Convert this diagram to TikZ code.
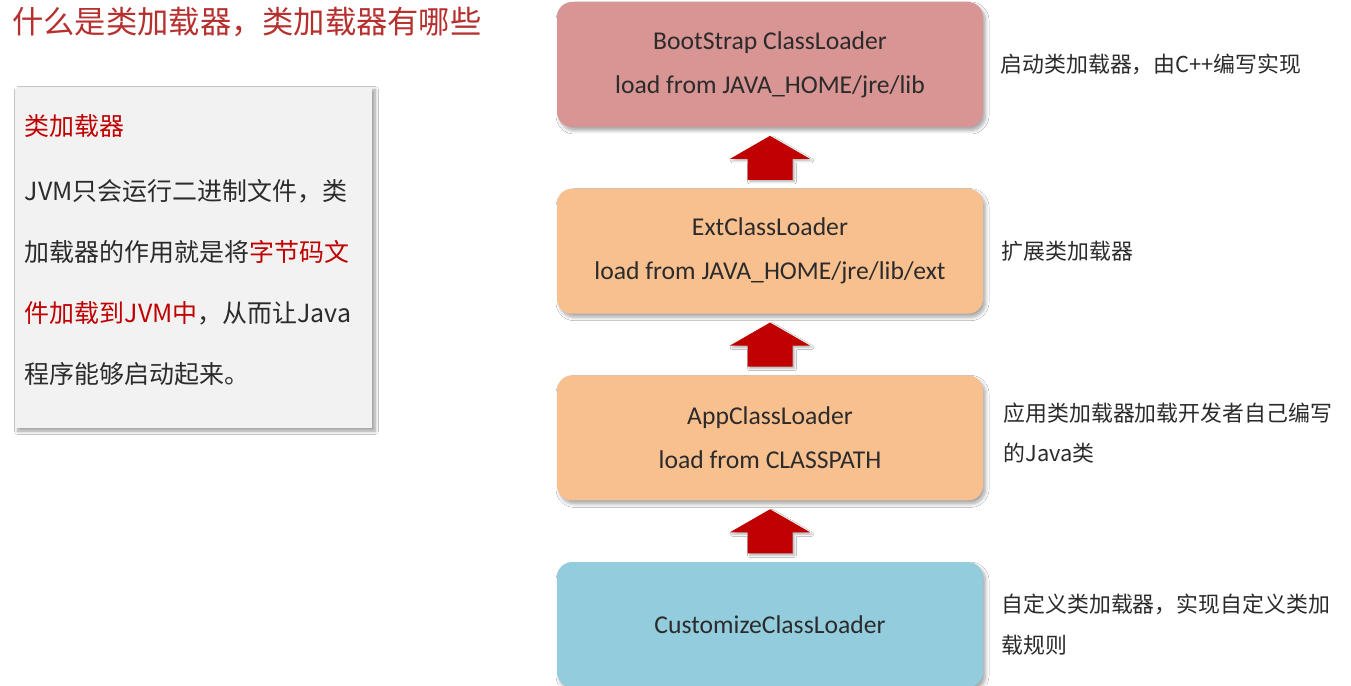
\documentclass[tikz,border=0pt]{standalone}
\usepackage{fontspec}
\setmainfont{Carlito}
\newfontfamily\cjk{Noto Sans CJK SC}
\usepackage{xcolor}
\usetikzlibrary{positioning,shadows.blur}

\definecolor{bootfill}{HTML}{D99594}
\definecolor{extfill}{HTML}{F9C08F}
\definecolor{custfill}{HTML}{93CDDD}
\definecolor{panelfill}{HTML}{F2F2F2}
\definecolor{arrowred}{HTML}{C00000}
\definecolor{titlered}{HTML}{B5302E}
\definecolor{keyred}{HTML}{C00000}
\definecolor{textgray}{HTML}{2B2B2B}

\begin{document}
\begin{tikzpicture}[
		loader/.style={rounded corners=0.3cm, minimum width=8.52cm, minimum height=2.5cm, align=center, text=textgray, font=\rmfamily\fontsize{14.6}{25}\selectfont, blur shadow={shadow xshift=0.05cm, shadow yshift=-0.07cm, shadow blur radius=0.07cm, shadow blur steps=6, shadow opacity=35}},
		liftarrow/.style={fill=arrowred, blur shadow={shadow xshift=0.04cm, shadow yshift=-0.04cm, shadow blur radius=0.04cm, shadow blur steps=4, shadow opacity=30}},
		note/.style={inner sep=0pt, align=left, text=textgray, font=\cjk\fontsize{12.45}{22.8}\selectfont},
		panel/.style={fill=panelfill, minimum width=7.14cm, minimum height=6.82cm, inner sep=0pt, blur shadow={shadow xshift=0.06cm, shadow yshift=-0.06cm, shadow blur radius=0.07cm, shadow blur steps=6, shadow opacity=40}},
		paneltext/.style={inner sep=0pt, align=left, text=textgray, font=\cjk\fontsize{14.2}{34.7}\selectfont},
		titletext/.style={inner sep=0pt, text=titlered, font=\cjk\fontsize{17.8}{20}\selectfont}
		]
		\path[use as bounding box, fill=white] (0,0) rectangle (27.02,13.70);
		
		% Title
		\node[titletext, anchor=west] (title) at (0.24,13.26) {什么是类加载器，类加载器有哪些};
		
		% Left panel
		\node[panel] (panel) at (3.87,8.55) {};
		\node[paneltext, anchor=north west] (ptext) at ([xshift=0.2cm, yshift=-0.55cm]panel.north west) {{\color{keyred}类加载器}\\[0.08cm]
			JVM只会运行二进制文件，类\\
			加载器的作用就是将{\color{keyred}字节码文}\\
			{\color{keyred}件加载到JVM中}，从而让Java\\
			程序能够启动起来。};
		
		% Loader chain
		\node[loader, fill=bootfill] (boot) at (15.40,12.41) {BootStrap ClassLoader\\load from JAVA\_HOME/jre/lib};
		\node[loader, fill=extfill, below=1.22cm of boot] (ext) {ExtClassLoader\\load from JAVA\_HOME/jre/lib/ext};
		\node[loader, fill=extfill, below=1.22cm of ext] (app) {AppClassLoader\\load from CLASSPATH};
		\node[loader, fill=custfill, below=1.22cm of app] (custom) {CustomizeClassLoader};
		
		% Notes on the right
		\node[note, right=0.34cm of boot] (bootnote) {启动类加载器，由C++编写实现};
		\node[note, right=0.36cm of ext] (extnote) {扩展类加载器};
		\node[note, right=0.4cm of app, yshift=0.1cm] (appnote) {应用类加载器加载开发者自己编写\\的Java类};
		\node[note, right=0.36cm of custom] (customnote) {自定义类加载器，实现自定义类加\\载规则};
		
		% Block arrows pointing up
		\foreach \lo/\hi in {ext/boot, app/ext, custom/app}
		\fill[liftarrow] ([yshift=0.17cm]\lo.north) -- ++(0.45,0) -- ++(0,0.42) -- ++(0.35,0) -- ([yshift=-0.17cm]\hi.south) -- ++(-0.8,-0.46) -- ++(0.35,0) -- ++(0,-0.42) -- cycle;
		
	\end{tikzpicture}
\end{document}
